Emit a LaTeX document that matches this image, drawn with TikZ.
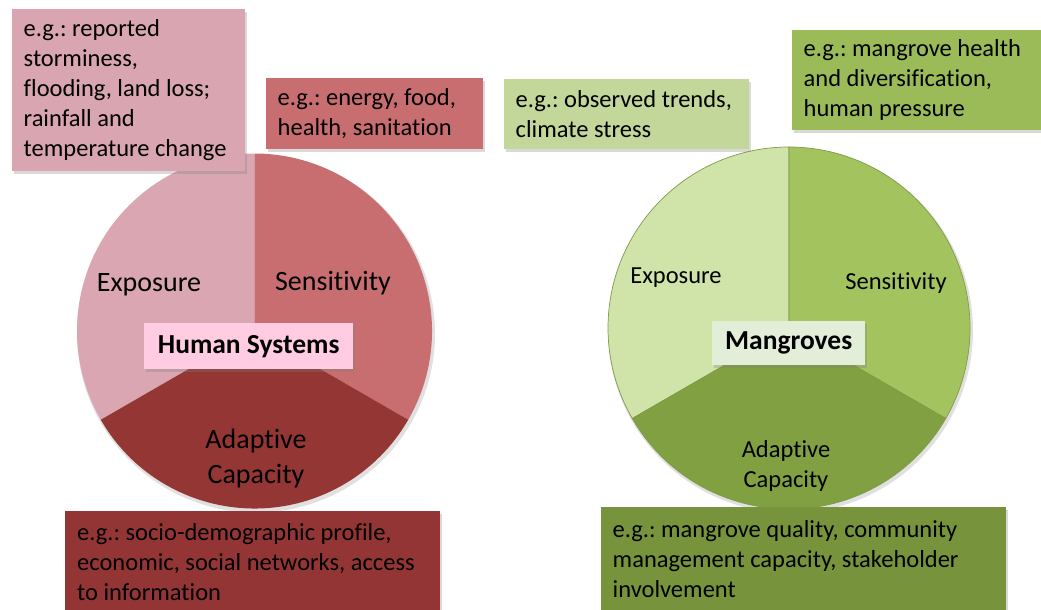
\documentclass[tikz,border=0pt]{standalone}
\usepackage{fontspec}
\setmainfont{Carlito}[Ligatures=NoCommon]
\usetikzlibrary{shadows}
\definecolor{hsExp}{HTML}{D9A6B1}
\definecolor{hsSen}{HTML}{C86E70}
\definecolor{hsAda}{HTML}{943634}
\definecolor{hsLab}{HTML}{FFCCE1}
\definecolor{mgExp}{HTML}{D0E3A8}
\definecolor{mgSen}{HTML}{A3C35F}
\definecolor{mgAda}{HTML}{80A042}
\definecolor{mgLab}{HTML}{E3EED9}
\definecolor{mgLine}{HTML}{7E9C48}
\definecolor{bxA}{HTML}{D9A5B0}
\definecolor{bxB}{HTML}{C96E70}
\definecolor{bxC}{HTML}{943535}
\definecolor{bxD}{HTML}{C4D79B}
\definecolor{bxE}{HTML}{9BBB59}
\definecolor{bxF}{HTML}{77933C}
\frenchspacing
\begin{document}
\begin{tikzpicture}[x=1pt,y=1pt,
  exbox/.style={anchor=north west, inner sep=0pt, draw=none,
    drop shadow={shadow xshift=2pt, shadow yshift=-3pt, opacity=0.3}},
  extext/.style={anchor=west, inner sep=0pt, align=left,
    font=\fontsize{24.5}{30}\selectfont},
  titlebox/.style={anchor=north west, inner sep=0pt,
    drop shadow={shadow xshift=1.5pt, shadow yshift=-2.5pt, opacity=0.3}},
  titletext/.style={inner sep=0pt, font=\fontsize{27.5}{32}\selectfont\bfseries},
  hslabel/.style={inner sep=0pt, align=center, font=\fontsize{28}{35}\selectfont},
  mglabel/.style={inner sep=0pt, align=center, font=\fontsize{24.5}{30}\selectfont},
  pieshadow/.style={fill=black, opacity=0.12}
]
\useasboundingbox (0,0) rectangle (1041,-610);

% ---------- Human systems pie ----------
\coordinate (hc) at (254.5,-331);
\def\hr{177.5}
\fill[pieshadow] ([shift={(1.5,-2.5)}]hc) circle[radius=\hr+1.5];
\fill[hsExp] (hc) -- ++(90:\hr) arc[start angle=90, end angle=210, radius=\hr] -- cycle;
\fill[hsSen] (hc) -- ++(-30:\hr) arc[start angle=-30, end angle=90, radius=\hr] -- cycle;
\fill[hsAda] (hc) -- ++(210:\hr) arc[start angle=210, end angle=330, radius=\hr] -- cycle;

\node[hslabel] (hsexp) at (149,-285) {Exposure};
\node[hslabel] (hssen) at (333,-283) {Sensitivity};
\node[hslabel] (hsada) at (256,-459) {Adaptive\\Capacity};

\node[titlebox, fill=hsLab, minimum width=209pt, minimum height=46pt] (hstitle) at (144,-323) {};
\node[titletext] (hstitlet) at (hstitle.center) {Human Systems};

% ---------- Mangroves pie ----------
\coordinate (mc) at (789,-328);
\def\mr{181}
\fill[pieshadow] ([shift={(1.5,-2.5)}]mc) circle[radius=\mr+1.5];
\filldraw[fill=mgExp, draw=mgLine, line width=0.7pt] (mc) -- ++(90:\mr) arc[start angle=90, end angle=210, radius=\mr] -- cycle;
\filldraw[fill=mgSen, draw=mgLine, line width=0.7pt] (mc) -- ++(-30:\mr) arc[start angle=-30, end angle=90, radius=\mr] -- cycle;
\filldraw[fill=mgAda, draw=mgLine, line width=0.7pt] (mc) -- ++(210:\mr) arc[start angle=210, end angle=330, radius=\mr] -- cycle;

\node[mglabel] (mgexp) at (676,-278) {Exposure};
\node[mglabel] (mgsen) at (896,-283) {Sensitivity};
\node[mglabel] (mgada) at (786,-466) {Adaptive\\Capacity};

\node[titlebox, fill=mgLab, minimum width=153pt, minimum height=44pt] (mgtitle) at (712,-321) {};
\node[titletext] (mgtitlet) at (mgtitle.center) {Mangroves};

% ---------- example boxes ----------
\node[exbox, fill=bxA, minimum width=233pt, minimum height=162pt] (exA) at (12,-9) {};
\node[extext] (exAt) at ([xshift=11.5pt]exA.west) {e.g.: reported\\storminess,\\flooding, land loss;\\rainfall and\\temperature change};

\node[exbox, fill=bxB, minimum width=217pt, minimum height=71pt] (exB) at (266,-78) {};
\node[extext] (exBt) at ([xshift=11.5pt]exB.west) {e.g.: energy, food,\\health, sanitation};

\node[exbox, fill=bxC, minimum width=375pt, minimum height=102pt] (exC) at (65,-511) {};
\node[extext] (exCt) at ([xshift=12pt]exC.west) {e.g.: socio-demographic profile,\\economic, social networks, access\\to information};

\node[exbox, fill=bxD, minimum width=245pt, minimum height=70pt] (exD) at (503.5,-79) {};
\node[extext] (exDt) at ([xshift=12pt]exD.west) {e.g.: observed trends,\\climate stress};

\node[exbox, fill=bxE, minimum width=262pt, minimum height=100pt] (exE) at (792,-30) {};
\node[extext] (exEt) at ([xshift=11.5pt]exE.west) {e.g.: mangrove health\\and diversification,\\human pressure};

\node[exbox, fill=bxF, minimum width=405pt, minimum height=104pt] (exF) at (601,-507) {};
\node[extext] (exFt) at ([xshift=11.5pt]exF.west) {e.g.: mangrove quality, community\\management capacity, stakeholder\\involvement};
\end{tikzpicture}
\end{document}
